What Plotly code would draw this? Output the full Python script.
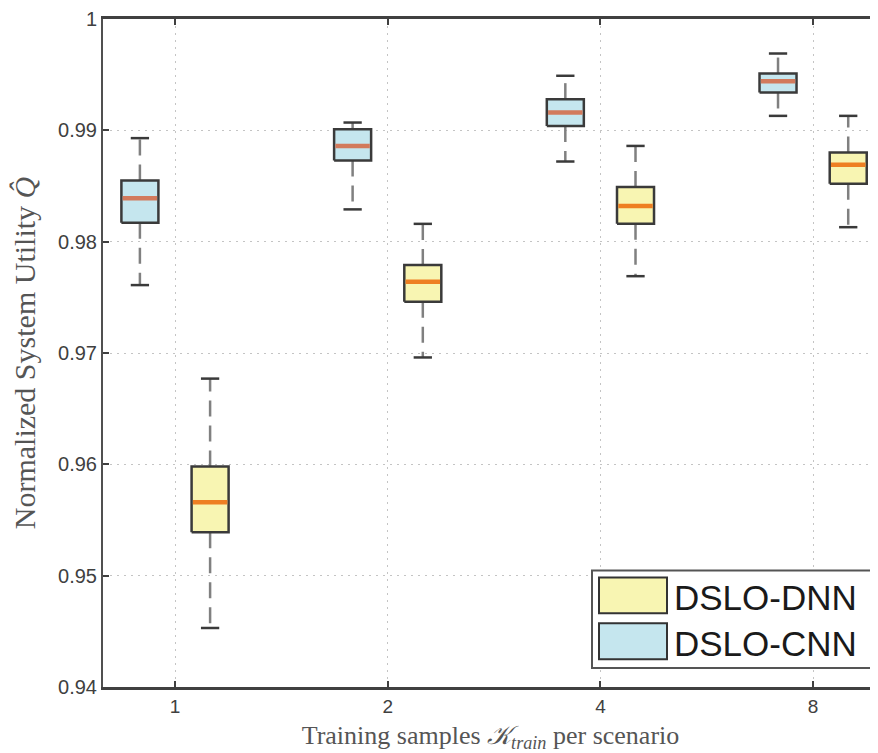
import plotly.graph_objects as go

# ---------------- data ----------------
categories = ["1", "2", "4", "8"]
cat_pos = [1, 2, 3, 4]

series_names = ["DSLO-DNN", "DSLO-CNN"]

dnn_upper = [0.9677, 0.9816, 0.9886, 0.9913]
dnn_q3    = [0.9598, 0.9779, 0.9849, 0.9880]
dnn_med   = [0.9566, 0.9764, 0.9832, 0.9869]
dnn_q1    = [0.9539, 0.9746, 0.9816, 0.9852]
dnn_lower = [0.9453, 0.9696, 0.9769, 0.9813]

cnn_upper = [0.9893, 0.9907, 0.9949, 0.9969]
cnn_q3    = [0.9855, 0.9901, 0.9928, 0.9951]
cnn_med   = [0.9839, 0.9886, 0.9916, 0.9944]
cnn_q1    = [0.9817, 0.9873, 0.9904, 0.9934]
cnn_lower = [0.9761, 0.9829, 0.9872, 0.9913]

y_tickvals = [0.94, 0.95, 0.96, 0.97, 0.98, 0.99, 1.0]
y_ticktext = ["0.94", "0.95", "0.96", "0.97", "0.98", "0.99", "1"]

# ---------------- style ----------------
PAGE_OFF = 8          # default body margin of the page
W, H = 870, 745
ML, MR, MT, MB = 95, 0, 8, 66
X_RANGE = [0.6615, 4.305]
Y_RANGE = [0.94, 1.0]

fill_cols = {"DSLO-DNN": "#F8F5B2", "DSLO-CNN": "#C5E6EE"}
med_cols = {"DSLO-DNN": "#EE7F22", "DSLO-CNN": "#D27A5C"}
offsets = {"DSLO-DNN": 0.165, "DSLO-CNN": -0.165}
HALF_W = 0.087
CAP_HALF = 0.043
EDGE = "#3a3a3a"

fig = go.Figure()

def add_series(name, lower, q1, med, q3, upper):
    off = offsets[name]
    wx, wy, cx, cy, bx, by, mx, my = [], [], [], [], [], [], [], []
    for p, lo, a, m, b, up in zip(cat_pos, lower, q1, med, q3, upper):
        c = p + off
        wx += [c, c, None, c, c, None]
        wy += [b, up, None, a, lo, None]
        cx += [c - CAP_HALF, c + CAP_HALF, None, c - CAP_HALF, c + CAP_HALF, None]
        cy += [up, up, None, lo, lo, None]
        bx += [c - HALF_W, c + HALF_W, c + HALF_W, c - HALF_W, c - HALF_W, None]
        by += [a, a, b, b, a, None]
        mx += [c - HALF_W + 0.006, c + HALF_W - 0.006, None]
        my += [m, m, None]
    fig.add_trace(go.Scatter(x=wx, y=wy, mode="lines", showlegend=False,
                             line=dict(color="#808080", width=2.5, dash="16px,9px"),
                             hoverinfo="skip"))
    fig.add_trace(go.Scatter(x=bx, y=by, mode="lines", fill="toself", name=name,
                             fillcolor=fill_cols[name], showlegend=False,
                             line=dict(color=EDGE, width=2.5)))
    fig.add_trace(go.Scatter(x=mx, y=my, mode="lines", showlegend=False,
                             line=dict(color=med_cols[name], width=4.5),
                             hoverinfo="skip"))
    fig.add_trace(go.Scatter(x=cx, y=cy, mode="lines", showlegend=False,
                             line=dict(color=EDGE, width=2.5), hoverinfo="skip"))

add_series("DSLO-DNN", dnn_lower, dnn_q1, dnn_med, dnn_q3, dnn_upper)
add_series("DSLO-CNN", cnn_lower, cnn_q1, cnn_med, cnn_q3, cnn_upper)

# ---------------- manual legend (layout decoration) ----------------
PW = W - ML - MR
PH = H - MT - MB
def px(xp):
    return (xp - PAGE_OFF - ML) / PW
def py(yp):
    return (H - MB - (yp - PAGE_OFF)) / PH

shapes = [dict(type="rect", xref="paper", yref="paper",
               x0=px(592), x1=px(871), y0=py(668), y1=py(570),
               line=dict(color="#555555", width=2), fillcolor="white", layer="above")]
annotations = []
for i, name in enumerate(series_names):
    top = 577 + i * 46
    shapes.append(dict(type="rect", xref="paper", yref="paper",
                       x0=px(599), x1=px(667), y0=py(top + 36), y1=py(top),
                       line=dict(color="#333333", width=2),
                       fillcolor=fill_cols[name], layer="above"))
    annotations.append(dict(xref="paper", yref="paper", x=px(672), y=py(top + 20),
                            text=name, showarrow=False, xanchor="left", yanchor="middle",
                            font=dict(family="Liberation Sans, Arial", size=35, color="#1a1a1a")))

fig.update_layout(
    width=W, height=H,
    margin=dict(l=ML, r=MR, t=MT, b=MB),
    paper_bgcolor="white", plot_bgcolor="white",
    showlegend=False,
    shapes=shapes, annotations=annotations,
    xaxis=dict(
        range=X_RANGE, tickmode="array", tickvals=cat_pos, ticktext=categories,
        showgrid=True, gridcolor="#c4c4c4", griddash="2px,5px", gridwidth=1,
        showline=True, linecolor="#404040", linewidth=2.5, mirror="ticks",
        ticks="inside", ticklen=6, tickwidth=1.5, tickcolor="#404040",
        tickfont=dict(family="Liberation Sans, Arial", size=19, color="#404040"),
        ticklabeloverflow="allow",
        zeroline=False,
        title=dict(text="Training samples <i>𝒦</i><sub><i>train</i></sub> per scenario",
                   font=dict(family="Liberation Serif, Times New Roman", size=26, color="#555555"),
                   standoff=12),
    ),
    yaxis=dict(
        range=Y_RANGE, tickmode="array", tickvals=y_tickvals, ticktext=y_ticktext,
        showgrid=True, gridcolor="#c4c4c4", griddash="2px,5px", gridwidth=1,
        showline=True, linecolor="#505050", linewidth=2, mirror=False,
        ticks="inside", ticklen=6, tickwidth=1.5, tickcolor="#404040",
        tickfont=dict(family="Liberation Sans, Arial", size=20, color="#404040"),
        ticklabeloverflow="allow",
        zeroline=False,
        title=dict(text="Normalized System Utility <i>Q̂</i>",
                   font=dict(family="Liberation Serif, Times New Roman", size=30, color="#555555"),
                   standoff=19),
    ),
)

fig.write_html("out.html")
